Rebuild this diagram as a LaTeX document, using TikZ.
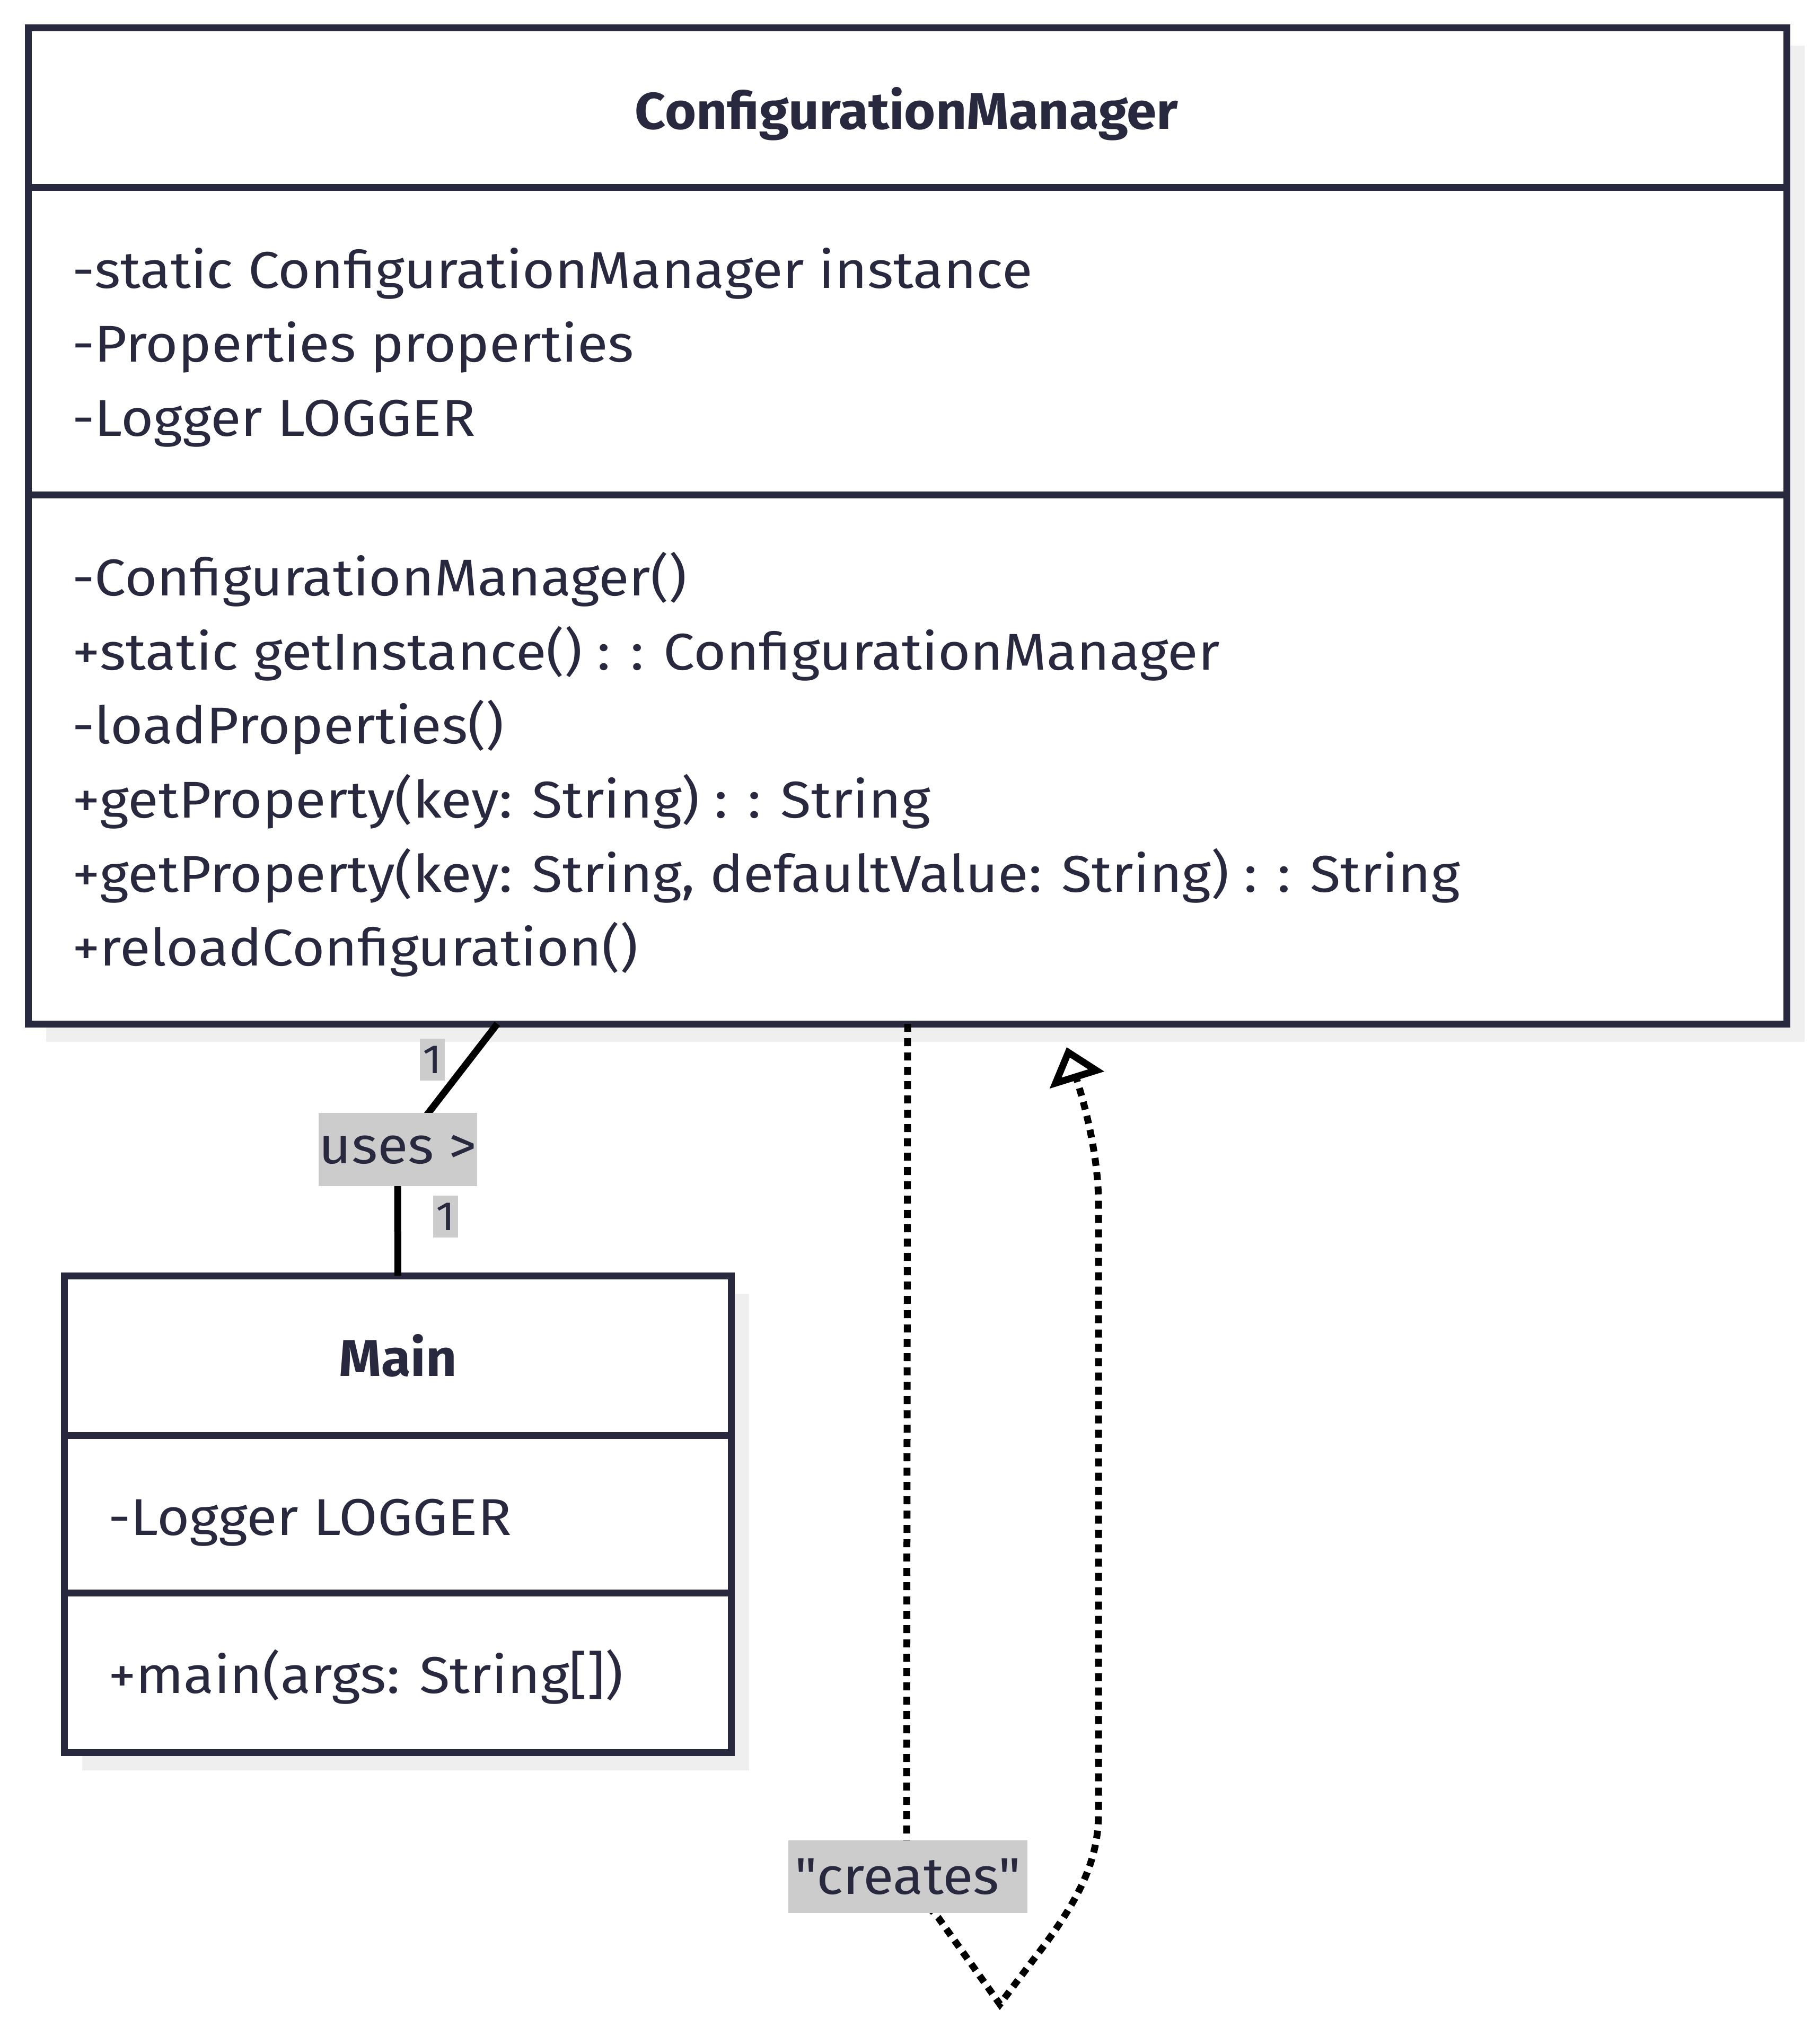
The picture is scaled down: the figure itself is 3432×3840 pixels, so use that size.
\documentclass[tikz,border=0pt]{standalone}
\usepackage{fontspec}
\setmainfont{Fira Sans}[Ligatures=TeXOff, FakeStretch=1.08]
\newfontfamily\titlefont{Fira Sans}[Ligatures=TeXOff, FakeStretch=1.04]
\usetikzlibrary{arrows.meta,shadows}
\definecolor{ink}{HTML}{28283F}
\definecolor{shade}{HTML}{EFEFEF}
\definecolor{lblfill}{HTML}{CCCCCC}
\begin{document}
\begin{tikzpicture}[x=0.2pt,y=-0.2pt,
  clsbox/.style={rectangle, draw=ink, line width=2.6pt, fill=white, inner sep=0pt, outer sep=0pt,
    drop shadow={shadow xshift=6.7pt, shadow yshift=-6.7pt, fill=shade, opacity=1}},
  body/.style={text=ink, font=\fontsize{19.5}{23}\selectfont, inner sep=0pt, anchor=base west},
  ttl/.style={text=ink, font=\fontsize{19.5}{23}\selectfont\titlefont\bfseries, inner sep=0pt, anchor=base},
  divider/.style={draw=ink, line width=2.6pt},
  lbl/.style={fill=lblfill, text=ink, inner sep=0pt, outer sep=0pt,
    font=\fontsize{19.5}{23}\selectfont},
  mult/.style={lbl, font=\fontsize{15.4}{18}\selectfont, minimum width=9.4pt, minimum height=15.8pt},
  assoc/.style={draw=black, line width=2.6pt},
  dep/.style={draw=black, line width=2.6pt, dash pattern=on 3pt off 2.4pt,
    -{Triangle[open,length=13pt,width=21pt]}}
]
\useasboundingbox (0,0) rectangle (3432,3840);

% ConfigurationManager class
\node[clsbox, minimum width=663.2pt, minimum height=375.6pt] (cm) at (1712,992) {};
\draw[divider] (54,353) -- (3370,353);
\draw[divider] (54,933) -- (3370,933);
\node[ttl] (cmt) at (1710,243) {ConfigurationManager};
\node[body] (ca1) at (135,543) {-static ConfigurationManager instance};
\node[body] (ca2) at (135,682) {-Properties properties};
\node[body] (ca3) at (135,822) {-Logger LOGGER};
\node[body] (cm1) at (135,1123) {-ConfigurationManager()};
\node[body] (cm2) at (135,1263) {+static getInstance() : : ConfigurationManager};
\node[body] (cm3) at (135,1402) {-loadProperties()};
\node[body] (cm4) at (135,1542) {+getProperty(key: String) : : String};
\node[body] (cm5) at (135,1682) {+getProperty(key: String, defaultValue: String) : : String};
\node[body] (cm6) at (135,1821) {+reloadConfiguration()};

% Main class
\node[clsbox, minimum width=251.4pt, minimum height=179.8pt] (main) at (750.5,2855.5) {};
\draw[divider] (122,2707) -- (1379,2707);
\draw[divider] (122,3004) -- (1379,3004);
\node[ttl] (mt) at (750.5,2595) {Main};
\node[body] (ma1) at (203,2895) {-Logger LOGGER};
\node[body] (mm1) at (203,3193) {+main(args: String[])};

% association
\coordinate (uA) at (938,1931);
\draw[assoc] (uA) -- (805,2103) .. controls (762,2158) and (750,2200) .. (750,2245) -- (main.north);
\node[lbl, minimum width=59.8pt, minimum height=27.6pt] (uses) at (750.5,2168) {uses >};
\node[mult] (m1a) at (815.5,1998.5) {1};
\node[mult] (m1b) at (840,2294.5) {1};

% dependency self loop
\coordinate (depTip) at (2012,1975);
\draw[dep] (cm.south) -- (1710,3470) .. controls (1710,3540) and (1735,3580) .. (1770,3617)
  -- (1886,3780) -- (1950,3695) .. controls (2035,3585) and (2072,3510) .. (2072,3420)
  -- (2072,2270) .. controls (2072,2190) and (2052,2103) .. (depTip);
\node[lbl, minimum width=90.2pt, minimum height=27.4pt] (creates) at (1712.5,3539.5) {"creates"};
\end{tikzpicture}
\end{document}
